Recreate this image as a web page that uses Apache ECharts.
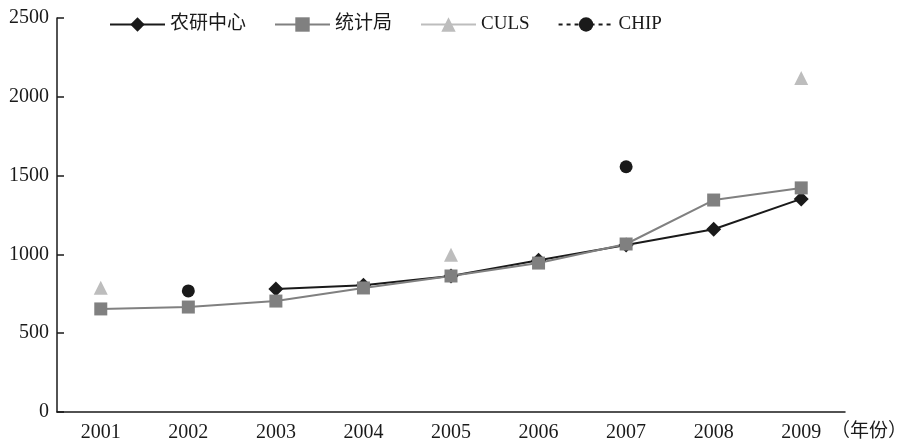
<!DOCTYPE html>
<html>
<head>
    <meta charset="utf-8">
    <title>ECharts</title>
    <script src="https://cdn.jsdelivr.net/npm/echarts@6/dist/echarts.min.js"></script>
</head>
<body style="margin:0;background:#fff">
    <div id="main" style="width: 908px;height:441px;"></div>
<script>
var years = ['2001','2002','2003','2004','2005','2006','2007','2008','2009'];
var nongyan = [null, null, 780, 805, 863, 963, 1060, 1160, 1352];
var tongji = [654, 666, 704, 787, 863, 945, 1066, 1345, 1422];
var culs = [788, null, null, null, 997, null, null, null, 2120];
var chip = [null, 768, null, null, null, null, 1556, null, null];

var serif = '"Liberation Serif", "Noto Sans CJK SC", serif';
var myChart = echarts.init(document.getElementById('main'));
myChart.setOption({
    animation: false,
    textStyle: {fontFamily: serif, color: '#1a1a1a'},
    grid: {left: 57, right: 63, top: 18, bottom: 29, outerBoundsMode: 'none', containLabel: false},
    legend: {
        left: 104,
        top: 10,
        itemWidth: 55,
        itemHeight: 18,
        itemGap: 28,
        textStyle: {fontFamily: serif, fontSize: 19, color: '#1a1a1a'},
        data: ['农研中心', '统计局', 'CULS', 'CHIP']
    },
    xAxis: {
        type: 'category',
        data: years,
        boundaryGap: true,
        axisLine: {lineStyle: {color: '#1a1a1a', width: 1.5}},
        axisTick: {inside: true, length: 7, lineStyle: {color: '#1a1a1a', width: 1.5}},
        axisLabel: {fontSize: 20, color: '#1a1a1a', margin: 11, fontFamily: serif}
    },
    yAxis: {
        type: 'value',
        min: 0,
        max: 2500,
        interval: 500,
        splitLine: {show: false},
        axisLine: {show: true, lineStyle: {color: '#1a1a1a', width: 1.5}},
        axisTick: {show: true, inside: true, length: 7, lineStyle: {color: '#1a1a1a', width: 1.5}},
        axisLabel: {fontSize: 20, color: '#1a1a1a', margin: 8, fontFamily: serif,
            formatter: function (v) { return String(v); }}
    },
    graphic: [{
        type: 'text',
        left: 831,
        top: 423,
        style: {text: '（年份）', font: '19px ' + serif, fill: '#1a1a1a'}
    }],
    series: [
        {
            name: '农研中心', type: 'line', data: nongyan,
            symbol: 'diamond', symbolSize: 15, showAllSymbol: true,
            itemStyle: {color: '#1a1a1a'},
            lineStyle: {color: '#1a1a1a', width: 2}
        },
        {
            name: '统计局', type: 'line', data: tongji,
            symbol: 'rect', symbolSize: 13, showAllSymbol: true,
            itemStyle: {color: '#808080'},
            lineStyle: {color: '#808080', width: 2}
        },
        {
            name: 'CULS', type: 'line', data: culs,
            symbol: 'triangle', symbolSize: 14, showAllSymbol: true,
            itemStyle: {color: '#bdbdbd'},
            lineStyle: {color: '#bdbdbd', width: 2}
        },
        {
            name: 'CHIP', type: 'line', data: chip,
            symbol: 'circle', symbolSize: 13, showAllSymbol: true,
            itemStyle: {color: '#1a1a1a'},
            lineStyle: {color: '#1a1a1a', width: 2, type: [4, 4]}
        }
    ]
});
</script>
</body>
</html>
